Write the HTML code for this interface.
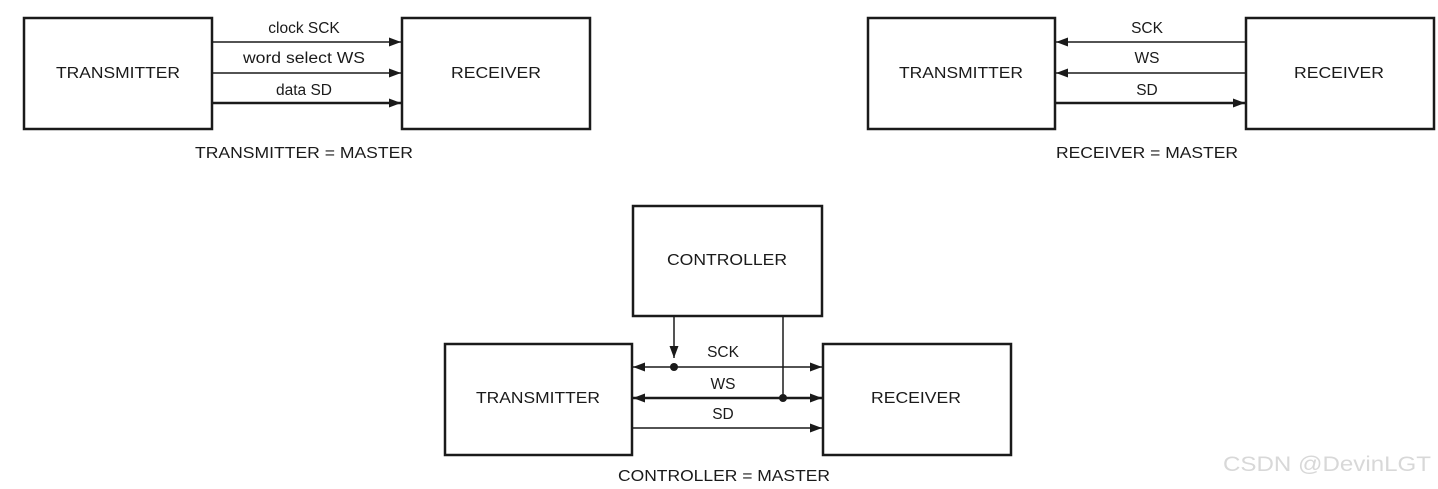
<!DOCTYPE html>
<html><head><meta charset="utf-8"><style>
html,body{margin:0;padding:0;background:#fff;}
svg{display:block;}
text{font-family:"Liberation Sans",sans-serif;font-size:15.5px;fill:#1a1a1a;}
</style></head><body>
<svg width="1438" height="489" viewBox="0 0 1438 489" xmlns="http://www.w3.org/2000/svg">
<defs>
<marker id="a" markerWidth="12" markerHeight="9" refX="12" refY="4.5" orient="auto" markerUnits="userSpaceOnUse">
<path d="M0,0 L12,4.5 L0,9 z" fill="#1a1a1a"/></marker>
</defs>
<g fill="none" stroke="#1a1a1a" stroke-width="2.5">
<rect x="24" y="18" width="188" height="111"/>
<rect x="402" y="18" width="188" height="111"/>
<rect x="868" y="18" width="187" height="111"/>
<rect x="1246" y="18" width="188" height="111"/>
<rect x="633" y="206" width="189" height="110"/>
<rect x="445" y="344" width="187" height="111"/>
<rect x="823" y="344" width="188" height="111"/>
</g>
<g stroke="#1a1a1a" fill="none">
<line x1="213" y1="42" x2="401" y2="42" stroke-width="1.5" marker-end="url(#a)"/>
<line x1="213" y1="73" x2="401" y2="73" stroke-width="1.5" marker-end="url(#a)"/>
<line x1="213" y1="103" x2="401" y2="103" stroke-width="2.5" marker-end="url(#a)"/>
<line x1="1245" y1="42" x2="1056" y2="42" stroke-width="1.5" marker-end="url(#a)"/>
<line x1="1245" y1="73" x2="1056" y2="73" stroke-width="1.5" marker-end="url(#a)"/>
<line x1="1056" y1="103" x2="1245" y2="103" stroke-width="2.5" marker-end="url(#a)"/>
<line x1="674" y1="317" x2="674" y2="358" stroke-width="1.5" marker-end="url(#a)"/>
<line x1="783" y1="317" x2="783" y2="398" stroke-width="1.5"/>
<line x1="674" y1="367" x2="633" y2="367" stroke-width="1.5" marker-end="url(#a)"/>
<line x1="674" y1="367" x2="822" y2="367" stroke-width="1.5" marker-end="url(#a)"/>
<line x1="783" y1="398" x2="633" y2="398" stroke-width="2.5" marker-end="url(#a)"/>
<line x1="783" y1="398" x2="822" y2="398" stroke-width="2.5" marker-end="url(#a)"/>
<line x1="633" y1="428" x2="822" y2="428" stroke-width="1.5" marker-end="url(#a)"/>
</g>
<circle cx="674" cy="367" r="4" fill="#1a1a1a"/>
<circle cx="783" cy="398" r="4" fill="#1a1a1a"/>
<g text-anchor="middle">
<text x="118" y="78" textLength="124" lengthAdjust="spacingAndGlyphs">TRANSMITTER</text>
<text x="496" y="78" textLength="90" lengthAdjust="spacingAndGlyphs">RECEIVER</text>
<text x="304" y="33">clock SCK</text>
<text x="304" y="63" textLength="122" lengthAdjust="spacingAndGlyphs">word select WS</text>
<text x="304" y="95">data SD</text>
<text x="304" y="158" textLength="218" lengthAdjust="spacingAndGlyphs">TRANSMITTER = MASTER</text>
<text x="961" y="78" textLength="124" lengthAdjust="spacingAndGlyphs">TRANSMITTER</text>
<text x="1339" y="78" textLength="90" lengthAdjust="spacingAndGlyphs">RECEIVER</text>
<text x="1147" y="33">SCK</text>
<text x="1147" y="63">WS</text>
<text x="1147" y="95">SD</text>
<text x="1147" y="158" textLength="182" lengthAdjust="spacingAndGlyphs">RECEIVER = MASTER</text>
<text x="727" y="265" textLength="120" lengthAdjust="spacingAndGlyphs">CONTROLLER</text>
<text x="538" y="403" textLength="124" lengthAdjust="spacingAndGlyphs">TRANSMITTER</text>
<text x="916" y="403" textLength="90" lengthAdjust="spacingAndGlyphs">RECEIVER</text>
<text x="723" y="357">SCK</text>
<text x="723" y="389">WS</text>
<text x="723" y="419">SD</text>
<text x="724" y="481" textLength="212" lengthAdjust="spacingAndGlyphs">CONTROLLER = MASTER</text>
</g>
<text x="1223" y="471" style="font-size:21px;fill:#d8d8d8" textLength="208" lengthAdjust="spacingAndGlyphs">CSDN @DevinLGT</text>
</svg>
</body></html>
